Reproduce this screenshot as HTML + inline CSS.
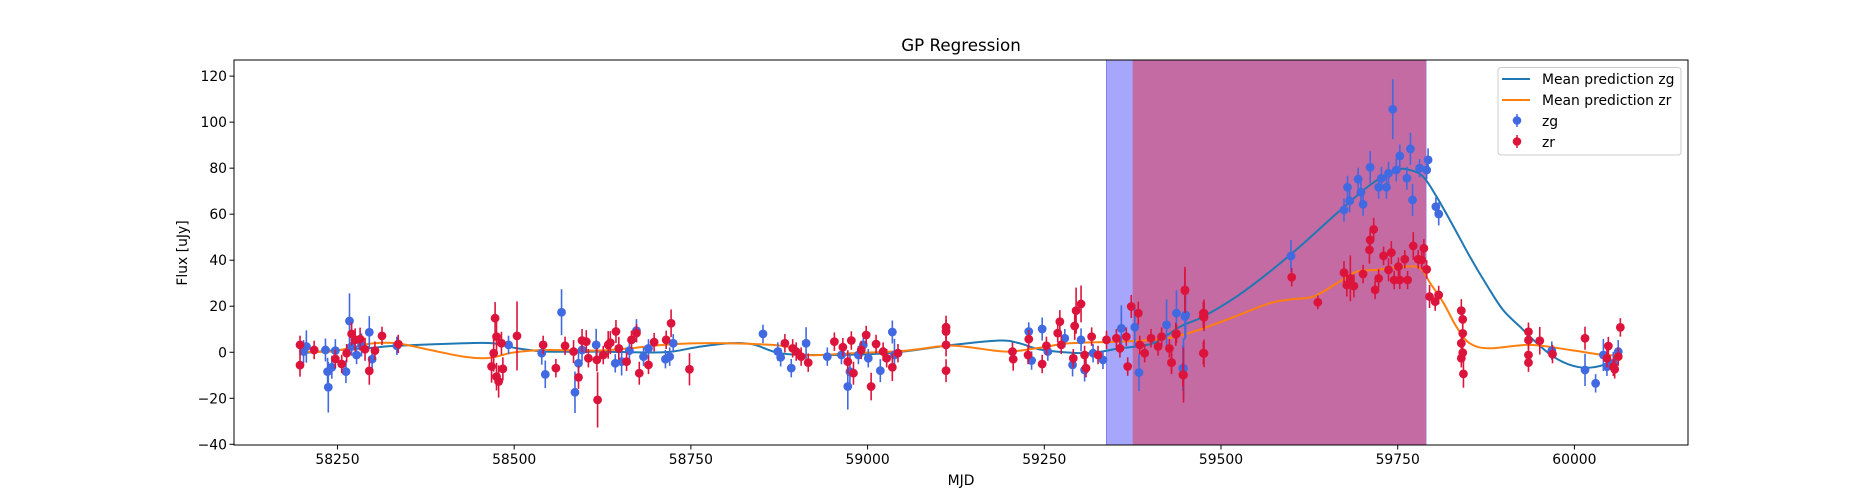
<!DOCTYPE html>
<html><head><meta charset="utf-8"><style>
html,body{margin:0;padding:0;background:#fff;}
svg{display:block;font-family:"DejaVu Sans","Liberation Sans",sans-serif;}
</style></head><body>
<svg id="chart" width="1875" height="500" viewBox="0 0 1875 500" xmlns="http://www.w3.org/2000/svg">
<rect x="0" y="0" width="1875" height="500" fill="#fff"/>
<text x="961" y="51" font-size="16.7" text-anchor="middle">GP Regression</text>
<g id="plot"></g>
<text x="961" y="485" font-size="13.9" text-anchor="middle">MJD</text>
<text x="0" y="0" font-size="13.9" text-anchor="middle" transform="translate(187,253) rotate(-90)">Flux [uJy]</text>
<g>
<rect x="1498" y="67.5" width="183" height="87.5" rx="3" fill="#fff" fill-opacity="0.8" stroke="#ccc"/>
<line x1="1502" y1="79" x2="1530" y2="79" stroke="#1f77b4" stroke-width="2"/>
<text x="1542" y="84" font-size="13.9">Mean prediction zg</text>
<line x1="1502" y1="100" x2="1530" y2="100" stroke="#ff7f0e" stroke-width="2"/>
<text x="1542" y="105" font-size="13.9">Mean prediction zr</text>
<line x1="1517" y1="114" x2="1517" y2="127" stroke="#4169e1" stroke-width="1.5"/>
<circle cx="1517" cy="120.5" r="4.3" fill="#4169e1"/>
<text x="1542" y="126" font-size="13.9">zg</text>
<line x1="1517" y1="135" x2="1517" y2="148" stroke="#dc143c" stroke-width="1.5"/>
<circle cx="1517" cy="141.5" r="4.3" fill="#dc143c"/>
<text x="1542" y="147" font-size="13.9">zr</text>
</g>
</svg>
<script>
const xTicks=[58250,58500,58750,59000,59250,59500,59750,60000];
const yTicks=[-40,-20,0,20,40,60,80,100,120];
const bandBlue=[59338,59790];
const bandMagenta=[59375,59790];
const zgCurveMjd=[58198,58240,58300,58334,58428,58470,58504,58546,58617,58711,58758,58805,58838,58876,58932,59027,59121,59187,59215,59248,59310,59357,59404,59442,59475,59522,59569,59617,59664,59711,59748,59767,59786,59805,59829,59852,59876,59899,59923,59947,59970,59994,60017,60041,60062];
const zgCurveVal=[-0.4,0.7,2.0,2.8,3.9,3.9,1.7,0.3,0.3,0,2.2,3.9,3.4,-0.4,-1.2,-0.4,3.2,5.1,3.9,1.0,-0.4,1.7,3.9,11.1,15.5,24.2,35,47.4,60.4,72.7,79.2,79.2,76.3,67.6,54.6,41.6,29.2,18.4,11.1,3.9,-1.9,-5.5,-6.7,-5.5,-1.9];
const zrCurveMjd=[58198,58240,58277,58301,58334,58381,58428,58457,58475,58499,58546,58617,58664,58711,58758,58805,58838,58885,58913,58979,59050,59111,59144,59196,59239,59286,59357,59404,59436,59475,59522,59569,59600,59631,59664,59692,59720,59758,59782,59796,59815,59833,59852,59880,59937,59994,60041,60062];
const zrCurveVal=[0.3,0.3,2.5,3.9,3.9,1.0,-1.9,-2.6,-1.9,-0.1,1.0,0.7,1.7,3.2,3.9,3.9,3.6,2.5,-1.2,-0.4,0.6,2.8,2.2,0.3,1.7,3.9,4.6,5.4,6.8,10.4,15.8,21.3,23,24.2,30,35,35.8,37.2,36.5,30,21.3,11.1,3.9,1.7,3.2,1.0,-1.2,-1.2];
const zgMjd=[58206,58202,58233,58236,58237,58242,58247,58262,58267,58270,58277,58284,58295,58299,58334,58492,58539,58544,58567,58586,58591,58596,58616,58643,58652,58663,58673,58683,58690,58714,58720,58725,58852,58873,58877,58892,58913,58943,58963,58972,58975,58987,58994,59001,59018,59035,59038,59228,59232,59247,59255,59279,59290,59302,59307,59319,59333,59359,59378,59384,59423,59437,59450,59446,59449,59447,59599,59674,59679,59682,59694,59698,59701,59711,59723,59727,59734,59737,59743,59748,59753,59763,59768,59771,59781,59791,59793,59804,59808,59968,60015,60030,60041,60046,60055,60062];
const zgFlux=[2.5,0.3,1.0,-8.4,-15.2,-6.5,0.7,-8.4,13.6,2.5,-1.2,3.2,8.7,-3.0,2.8,3.2,-0.4,-9.6,17.4,-17.4,-4.8,1.0,3.2,-4.8,-4.1,0.7,9.4,-1.9,1.7,-3.0,-1.9,3.9,8.0,0.3,-2.2,-6.9,3.9,-1.9,-1.2,-14.9,-8.4,-1.2,3.2,-2.6,-8.0,8.8,-1.2,9.0,-3.6,10.1,0.3,6.1,-5.5,5.4,-7.7,-0.4,-3.3,10.4,10.9,-8.8,11.9,17.0,16.2,-6.9,15.5,-7.0,41.8,61.8,71.7,65.8,75.2,69.5,64.3,80.4,71.7,75.6,71.7,77.8,105.6,79.2,85.3,75.6,88.4,66.2,80.0,79.2,83.6,63.3,60.1,0.7,-7.7,-13.5,-1.2,-6.3,-4.8,0.3];
const zgErr=[7,5,5,6,11,5,5,5,12,4,4,5,7,5,4,4,5,6,10,9,6,5,7,4,6,4,5,4,4,4,4,4,4,4,4,4,7,4,4,10,8,4,4,4,5,5,7,4,4,5,4,4,5,5,5,4,4,10,9,8,11,10,10,10,10,13,7,5,5,5,5,5,5,7,5,5,5,5,13,5,5,5,7,7,4,4,5,4,5,4,7,4,7,4,5,5];
const zrMjd=[58197,58197,58217,58247,58256,58263,58270,58275,58282,58289,58295,58303,58313,58336,58473,58475,58471,58468,58475,58478,58482,58484,58504,58541,58559,58572,58584,58591,58596,58602,58605,58617,58618,58626,58633,58636,58644,58648,58659,58666,58673,58677,58690,58698,58715,58722,58748,58883,58894,58899,58906,58916,58953,58965,58972,58977,58980,58991,58998,59005,59012,59022,59027,59035,59043,59111,59111,59111,59111,59205,59206,59228,59227,59247,59253,59269,59272,59274,59293,59295,59302,59291,59307,59309,59317,59326,59338,59352,59357,59366,59368,59373,59383,59385,59392,59401,59411,59416,59427,59430,59437,59446,59449,59475,59475,59475,59436,59430,59447,59449,59476,59476,59476,59600,59637,59674,59678,59683,59688,59701,59710,59711,59716,59718,59723,59730,59737,59741,59745,59751,59753,59760,59764,59772,59779,59784,59787,59791,59795,59803,59808,59840,59842,59842,59840,59842,59840,59843,59935,59935,59935,59935,59951,59969,60015,60048,60046,60055,60062,60057,60065];
const zrFlux=[3.2,-5.6,1.0,-2.9,-5.1,-0.4,8.0,5.4,5.7,1.3,-8.1,0.7,7.1,3.6,14.8,6.8,-0.4,-6.2,-10.6,-12.7,3.9,-7.2,7.1,3.2,-6.9,2.8,0.3,-10.9,5.1,4.6,-2.6,-3.3,-20.7,-1.2,3.2,4.2,9.0,1.7,-4.1,5.4,8.3,-9.1,-5.5,4.4,5.4,12.6,-7.4,3.9,1.7,0.3,-1.9,-4.5,4.6,2.2,-4.1,5.1,-9.1,1.0,7.5,-14.9,3.6,0.3,-2.6,-6.5,-0.4,10.9,9.0,3.2,-8.0,0.3,-3.0,5.7,-1.2,-5.1,2.8,8.3,13.3,3.2,11.4,18.1,21.0,-2.6,-1.2,-6.9,6.8,-1.2,5.4,6.1,1.7,6.8,-6.2,19.9,17.0,3.2,-0.4,6.1,2.5,6.8,1.7,-4.5,8.0,-9.8,27.1,17.0,15.5,-0.4,7.8,-4.5,-9.9,26.8,16.9,15.2,-0.5,32.6,21.7,34.6,29.2,32.1,28.8,34.0,44.5,48.8,53.4,27.1,32.1,41.9,35.8,43.3,31.4,37.2,31.4,40.4,31.4,46.2,40.4,40.1,45.2,36.0,24.2,22.0,24.9,18.1,14.3,8.2,3.9,-0.2,-2.6,-9.4,8.9,5.3,-1.2,-4.5,5.0,-0.8,6.1,2.7,-2.6,-6.3,-1.9,-7.4,10.8];
const zrErr=[4,5,4,4,4,4,5,5,5,5,6,4,4,4,7,8,8,7,6,7,5,5,15,4,4,4,5,5,5,5,4,5,12,4,6,5,5,5,4,4,4,5,4,4,4,6,7,4,4,4,4,4,4,4,5,4,5,4,4,6,4,4,4,6,4,5,5,5,5,4,5,4,4,4,4,4,5,4,6,10,8,4,4,4,4,4,4,4,4,4,4,5,5,4,4,4,4,4,4,5,4,5,10,5,5,5,5,4,12,9,6,6,6,4,3,5,5,10,5,4,6,4,5,4,4,4,5,5,4,4,4,4,4,6,4,4,4,4,5,4,4,5,5,5,4,4,4,6,4,4,4,4,6,4,5,4,4,4,4,4,4,6];

const X0=234,X1=1688,Y0=60,Y1=445;
const xMin=58103.6,xMax=60160.7,yMin=-40.3,yMax=127;
function sx(m){return X0+(m-xMin)/(xMax-xMin)*(X1-X0);}
function sy(v){return Y1-(v-yMin)/(yMax-yMin)*(Y1-Y0);}
const NS="http://www.w3.org/2000/svg";
const plot=document.getElementById('plot');
function mk(tag,attrs,parent){const e=document.createElementNS(NS,tag);for(const k in attrs)e.setAttribute(k,attrs[k]);(parent||plot).appendChild(e);return e;}

const clip=mk('clipPath',{id:'pc'});mk('rect',{x:X0,y:Y0,width:X1-X0,height:Y1-Y0},clip);

const b1=mk('rect',{x:sx(bandBlue[0]),y:Y0,width:sx(bandBlue[1])-sx(bandBlue[0]),height:Y1-Y0,fill:'#a6a6fc',stroke:'#8080f8','stroke-width':1});


const b2=mk('rect',{x:sx(bandMagenta[0]),y:Y0,width:sx(bandMagenta[1])-sx(bandMagenta[0]),height:Y1-Y0,fill:'#c46ba3'});



function curve(ms,vs,color,name){
  const P=ms.map((m,i)=>[sx(m),sy(vs[i])]);
  let d='M'+P[0][0].toFixed(1)+','+P[0][1].toFixed(1);
  for(let i=0;i<P.length-1;i++){
    const p0=P[Math.max(0,i-1)],p1=P[i],p2=P[i+1],p3=P[Math.min(P.length-1,i+2)];
    const c1x=p1[0]+(p2[0]-p0[0])/6,c1y=p1[1]+(p2[1]-p0[1])/6;
    const c2x=p2[0]-(p3[0]-p1[0])/6,c2y=p2[1]-(p3[1]-p1[1])/6;
    d+='C'+c1x.toFixed(1)+','+c1y.toFixed(1)+' '+c2x.toFixed(1)+','+c2y.toFixed(1)+' '+p2[0].toFixed(1)+','+p2[1].toFixed(1);
  }
  const p=mk('path',{d:d,fill:'none',stroke:color,'stroke-width':2,'stroke-linejoin':'round','clip-path':'url(#pc)'});
  
  
}
curve(zgCurveMjd,zgCurveVal,'#1f77b4','mean-prediction-zg-line');
curve(zrCurveMjd,zrCurveVal,'#ff7f0e','mean-prediction-zr-line');

function points(ms,vs,es,color,name){
  const g=mk('g',{});
  
  
  for(let i=0;i<ms.length;i++){
    const x=sx(ms[i]),y=sy(vs[i]);
    const l=mk('line',{x1:x,x2:x,y1:sy(vs[i]+es[i]),y2:sy(vs[i]-es[i]),stroke:color,'stroke-width':1.6},g);
    
    
    const c=mk('circle',{cx:x,cy:y,r:4.4,fill:color},g);
    
    
  }
}
points(zgMjd,zgFlux,zgErr,'#4169e1','zg');
points(zrMjd,zrFlux,zrErr,'#dc143c','zr');

const frame=mk('rect',{x:X0,y:Y0,width:X1-X0,height:Y1-Y0,fill:'none',stroke:'#000','stroke-width':1});



xTicks.forEach(t=>{
  const x=sx(t);
  mk('line',{x1:x,x2:x,y1:Y1,y2:Y1+4.5,stroke:'#000','stroke-width':1});
  const tx=mk('text',{x:x,y:Y1+19,'font-size':13.9,'text-anchor':'middle'});
  tx.textContent=t;
  
  
});
yTicks.forEach(t=>{
  const y=sy(t);
  mk('line',{x1:X0-4.5,x2:X0,y1:y,y2:y,stroke:'#000','stroke-width':1});
  const tx=mk('text',{x:X0-7,y:y+5,'font-size':13.9,'text-anchor':'end'});
  tx.textContent=t<0?'\u2212'+(-t):t;
  
  
});
</script>
</body></html>
